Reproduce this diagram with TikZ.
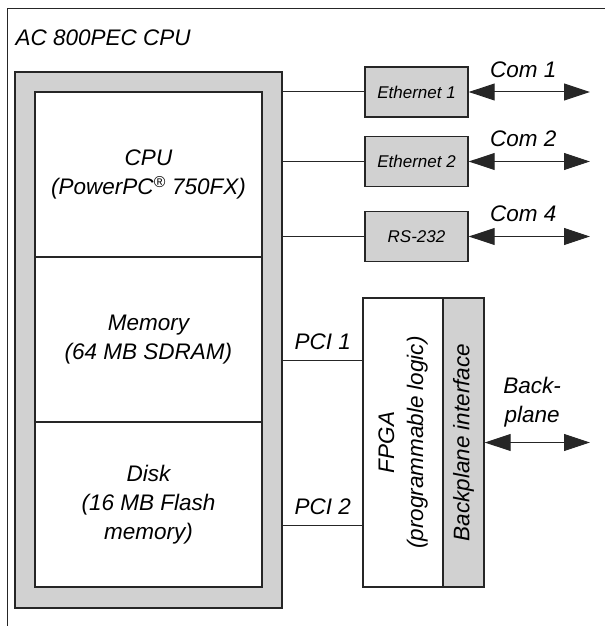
\documentclass[tikz,border=0pt]{standalone}
\usepackage{fontspec}
\setmainfont{Liberation Sans}
\usetikzlibrary{arrows.meta}

\begin{document}
\begin{tikzpicture}[x=1bp, y=-1bp,
	every node/.style={font=\itshape\fontsize{22.5bp}{29bp}\selectfont},
	block/.style={rectangle, draw=black!85, line width=1.4bp, inner sep=0pt},
	part/.style={block, fill=white, align=center},
	port/.style={block, fill=black!18, minimum width=103bp, minimum height=50bp, font=\itshape\fontsize{17bp}{20bp}\selectfont},
	link/.style={draw=black!85, line width=1bp},
	>={Triangle[length=26bp, width=17bp]}]
	\useasboundingbox (0,0) rectangle (605,626);
	\draw [link] (605,9) -- (7,9) -- (7,626);
	\node at (12,46) [anchor=base west] (title) {AC 800PEC CPU};

	\node at (148.5,340) [block, fill=black!18, minimum width=267bp, minimum height=536bp] (shell) {};
	\node at (148.5,174.5) [part, minimum width=227bp, minimum height=165bp] (cpu) {CPU\\(PowerPC\textsuperscript{®} 750FX)};
	\node at (148.5,339.5) [part, minimum width=227bp, minimum height=165bp] (mem) {Memory\\(64 MB SDRAM)};
	\node at (148.5,504.5) [part, minimum width=227bp, minimum height=165bp] (disk) {Disk\\(16 MB Flash\\memory)};

	\node at (416.5,92) [port] (eth1) {Ethernet 1};
	\node at (416.5,161.5) [port] (eth2) {Ethernet 2};
	\node at (416.5,236.5) [port] (rs) {RS-232};
	\node at (403,442.5) [part, rotate=90, minimum width=289bp, minimum height=80bp] (fpga) {FPGA\\(programmable logic)};
	\node at (463.5,442.5) [block, fill=black!18, rotate=90, minimum width=289bp, minimum height=41bp] (bpif) {Backplane interface};

	\coordinate (com1) at (590,92);
	\coordinate (com2) at (590,161.5);
	\coordinate (com4) at (590,236.5);
	\coordinate (bpout) at (590,442.5);
	\coordinate (pci1) at (363,360);
	\coordinate (pci2) at (363,525);

	\draw [link] (eth1.west -| shell.east) -- (eth1);
	\draw [link] (eth2.west -| shell.east) -- (eth2);
	\draw [link] (rs.west -| shell.east) -- (rs);
	\draw [link] (pci1 -| shell.east) -- (pci1) node[midway, above, yshift=6.5bp] {PCI 1};
	\draw [link] (pci2 -| shell.east) -- (pci2) node[midway, above, yshift=6.5bp] {PCI 2};

	\draw [link, <->] (eth1) -- (com1) node[pos=0.45, above, yshift=10.5bp] {Com 1};
	\draw [link, <->] (eth2) -- (com2) node[pos=0.45, above, yshift=10.5bp] {Com 2};
	\draw [link, <->] (rs) -- (com4) node[pos=0.45, above, yshift=10.5bp] {Com 4};
	\draw [link, <->] (bpif) -- (bpout) node[pos=0.45, above, yshift=12bp, align=center] {Back-\\plane};
\end{tikzpicture}
\end{document}
